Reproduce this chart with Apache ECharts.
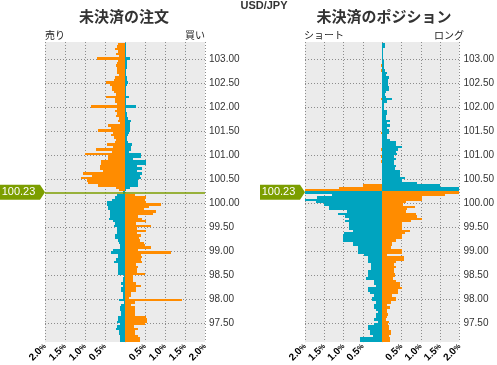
<!DOCTYPE html>
<html>
<head>
<meta charset="utf-8">
<script src="https://cdn.jsdelivr.net/npm/echarts/dist/echarts.min.js"></script>
<style>
html,body{margin:0;padding:0;background:#fff;}
#chart{width:497px;height:365px;}
</style>
</head>
<body>
<div id="chart"></div>
<script>
// ---------- data ----------
const symbolName = 'USD/JPY';
const currentPrice = 100.23;
const bucketSize = 0.05;
const yTicks = [97.5, 98.0, 98.5, 99.0, 99.5, 100.0, 100.5, 101.0, 101.5, 102.0, 102.5, 103.0];

// lower edge of each price bucket, top to bottom
const bucketPrices = [
  103.30,103.25,103.20,103.15,103.10,103.05,103.00,102.95,102.90,102.85,
  102.80,102.75,102.70,102.65,102.60,102.55,102.50,102.45,102.40,102.35,
  102.30,102.25,102.20,102.15,102.10,102.05,102.00,101.95,101.90,101.85,
  101.80,101.75,101.70,101.65,101.60,101.55,101.50,101.45,101.40,101.35,
  101.30,101.25,101.20,101.15,101.10,101.05,101.00,100.95,100.90,100.85,
  100.80,100.75,100.70,100.65,100.60,100.55,100.50,100.45,100.40,100.35,
  100.30,100.25,100.20,100.15,100.10,100.05,100.00,99.95,99.90,99.85,
  99.80,99.75,99.70,99.65,99.60,99.55,99.50,99.45,99.40,99.35,
  99.30,99.25,99.20,99.15,99.10,99.05,99.00,98.95,98.90,98.85,
  98.80,98.75,98.70,98.65,98.60,98.55,98.50,98.45,98.40,98.35,
  98.30,98.25,98.20,98.15,98.10,98.05,98.00,97.95,97.90,97.85,
  97.80,97.75,97.70,97.65,97.60,97.55,97.50,97.45,97.40,97.35,
  97.30,97.25,97.20,97.15,97.10
];

// open orders (%), sell side and buy side
const orderSell = [
  0.17,0.19,0.25,0.18,0.22,0.15,0.70,0.18,0.19,0.22,
  0.20,0.19,0.19,0.15,0.25,0.27,0.47,0.37,0.32,0.32,
  0.28,0.22,0.47,0.25,0.25,0.20,0.85,0.20,0.24,0.20,
  0.23,0.15,0.17,0.12,0.42,0.35,0.67,0.30,0.35,0.28,
  0.22,0.25,0.45,0.30,0.72,0.32,1.00,0.42,0.42,0.60,
  0.60,0.62,0.62,0.55,1.05,0.82,1.10,0.95,0.92,0.67,
  0.22,0.15,0.05,0.20,0.25,0.32,0.45,0.45,0.42,0.42,
  0.37,0.37,0.38,0.40,0.30,0.25,0.27,0.20,0.20,0.20,
  0.25,0.25,0.18,0.15,0.13,0.12,0.30,0.35,0.17,0.17,
  0.22,0.27,0.18,0.17,0.17,0.17,0.17,0.03,0.05,0.05,
  0.10,0.05,0.10,0.10,0.04,0.04,0.04,0.15,0.03,0.10,
  0.12,0.12,0.10,0.10,0.17,0.17,0.20,0.12,0.20,0.22,
  0.15,0.15,0.12,0.12,0.12
];
const orderBuy = [
  0.02,0.02,0.02,0.02,0.03,0.02,0.12,0.04,0.04,0.05,
  0.04,0.03,0.03,0.02,0.05,0.05,0.07,0.04,0.03,0.03,
  0.02,0.03,0.10,0.03,0.02,0.02,0.27,0.02,0.02,0.04,
  0.05,0.08,0.15,0.12,0.12,0.12,0.12,0.10,0.08,0.06,
  0.05,0.08,0.18,0.15,0.15,0.10,0.40,0.40,0.20,0.52,
  0.52,0.30,0.42,0.30,0.42,0.38,0.40,0.32,0.32,0.32,
  0.12,0.03,0.00,0.25,0.52,0.50,0.52,0.90,0.60,0.47,
  0.77,0.70,0.32,0.42,0.52,0.28,0.65,0.30,0.52,0.30,
  0.40,0.35,0.38,0.47,0.50,0.65,0.33,1.15,0.40,0.42,
  0.40,0.42,0.28,0.33,0.30,0.30,0.50,0.20,0.20,0.20,
  0.28,0.40,0.27,0.27,0.15,0.15,0.10,1.42,0.25,0.15,
  0.25,0.25,0.25,0.25,0.52,0.55,0.55,0.50,0.22,0.32,
  0.25,0.25,0.32,0.37,0.37
];

// open positions (%), short side and long side
const posShort = [
  0,0,0,0,0,0,0,0,0,0.02,
  0,0.02,0,0,0,0,0,0,0,0,
  0,0,0,0.02,0,0,0,0,0,0,
  0,0,0,0,0,0,0,0.02,0,0,
  0,0,0,0,0.02,0,0,0.03,0,0.02,
  0,0,0,0,0,0,0,0,0,0.50,
  1.12,2.10,2.10,1.30,1.70,2.10,1.72,1.50,1.37,1.37,
  0.90,1.15,0.97,0.87,0.97,0.87,0.87,0.87,0.75,1.00,
  1.02,1.02,1.02,0.75,0.75,0.62,0.62,0.62,0.47,0.37,
  0.37,0.37,0.30,0.30,0.30,0.37,0.37,0.37,0.42,0.22,
  0.22,0.17,0.37,0.37,0.32,0.22,0.27,0.27,0.17,0.22,
  0.22,0.17,0.12,0.17,0.17,0.20,0.12,0.22,0.37,0.37,
  0.32,0.32,0.25,0.57,0.57
];
const posLong = [
  0.07,0.07,0.03,0.03,0.03,0.03,0.03,0.04,0.05,0.05,
  0.05,0.06,0.12,0.10,0.17,0.15,0.15,0.15,0.17,0.17,
  0.10,0.08,0.10,0.25,0.12,0.05,0.05,0.05,0.12,0.12,
  0.10,0.10,0.19,0.12,0.19,0.12,0.17,0.17,0.12,0.12,
  0.20,0.37,0.37,0.52,0.40,0.37,0.38,0.30,0.35,0.30,
  0.30,0.35,0.33,0.45,0.45,0.47,0.60,0.52,0.90,1.50,
  2.10,2.10,2.10,1.62,1.02,1.02,0.62,0.55,0.85,0.65,
  0.62,0.87,0.90,1.02,0.75,0.52,0.50,0.52,0.72,0.60,
  0.50,0.50,0.37,0.25,0.25,0.22,0.50,0.50,0.12,0.57,
  0.57,0.35,0.30,0.37,0.30,0.30,0.32,0.32,0.27,0.37,
  0.45,0.45,0.52,0.40,0.40,0.25,0.37,0.37,0.22,0.12,
  0.20,0.12,0.12,0.15,0.12,0.10,0.17,0.15,0.17,0.17,
  0.22,0.22,0.17,0.20,0.20
];

// ---------- styles ----------
const ORANGE = '#ff8c00';
const TEAL = '#00a4bf';
const GREEN = '#7c9e00';
const GRID_BG = '#ebebeb';
const DOT = '#8c8c8c';
const NUM_FONT = '"Liberation Sans", Arial, sans-serif';
const JP_FONT = '"Noto Sans CJK JP", sans-serif';

const chart = echarts.init(document.getElementById('chart'), null, {renderer: 'canvas'});

function pairs(vals) { return bucketPrices.map((p, i) => [p, vals[i]]); }

function makeRender(sign, colorAbove, colorBelow) {
  return function (params, api) {
    const p = api.value(0);
    let v = api.value(1);
    if (!v) return null;
    v = Math.min(v, 2);
    const a = api.coord([0, p + bucketSize]);
    const b = api.coord([sign * v, p]);
    const y0 = Math.round(a[1]), y1 = Math.round(b[1]);
    const xa = Math.round(a[0]), xb = Math.round(b[0]);
    const above = (p + bucketSize / 2) >= currentPrice;
    return {
      type: 'rect',
      shape: {x: Math.min(xa, xb), y: y0, width: Math.max(1, Math.abs(xb - xa)), height: y1 - y0},
      style: {fill: above ? colorAbove : colorBelow}
    };
  };
}

function barSeries(idx, vals, sign) {
  return {
    type: 'custom',
    xAxisIndex: idx, yAxisIndex: idx,
    clip: true,
    renderItem: sign < 0 ? makeRender(-1, ORANGE, TEAL) : makeRender(1, TEAL, ORANGE),
    data: pairs(vals),
    z: 2,
    silent: true
  };
}

function priceMarker(idx, withLine) {
  const s = {
    type: 'line',
    xAxisIndex: idx, yAxisIndex: idx,
    data: [],
    z: 5,
    silent: true,
    markPoint: {
      silent: true,
      symbol: 'path://M0,0L40,0L45,7.5L40,15L0,15Z',
      symbolSize: [45, 15],
      symbolKeepAspect: false,
      symbolOffset: ['-50%', 0],
      itemStyle: {color: GREEN},
      label: {
        show: true, position: 'inside', offset: [-4, 0],
        color: '#fff', fontSize: 11, fontFamily: NUM_FONT,
        formatter: () => currentPrice.toFixed(2)
      },
      data: [{coord: [-2, currentPrice]}]
    }
  };
  if (withLine) {
    s.markLine = {
      silent: true,
      symbol: ['none', 'none'],
      label: {show: false},
      lineStyle: {color: GREEN, width: 1.5, type: 'solid'},
      data: [{yAxis: currentPrice}]
    };
  }
  return s;
}

function xAxis(idx) {
  return {
    type: 'value', gridIndex: idx, min: -2, max: 2, interval: 0.5,
    axisLine: {show: false}, axisTick: {show: false},
    splitLine: {show: true, lineStyle: {color: DOT, type: [1, 2], width: 1}},
    axisLabel: {
      rotate: 45, margin: 3, fontFamily: NUM_FONT,
      formatter: v => Math.abs(v) < 1e-9 ? '' : '{n|' + Math.abs(v).toFixed(1) + '}{p|%}',
      rich: {
        n: {fontSize: 10, color: '#000', fontWeight: 'bold', fontFamily: NUM_FONT},
        p: {fontSize: 7, color: '#000', fontWeight: 'bold', fontFamily: NUM_FONT}
      }
    }
  };
}

function yAxis(idx) {
  return {
    type: 'value', gridIndex: idx, min: 97.10, max: 103.37, position: 'right',
    axisLine: {show: false},
    axisTick: {show: false, customValues: yTicks},
    axisLabel: {
      customValues: yTicks, margin: 4, fontSize: 10, color: '#333', fontFamily: NUM_FONT,
      formatter: v => Number(v).toFixed(2)
    },
    splitLine: {show: true, lineStyle: {color: DOT, type: [1, 2], width: 1}}
  };
}

function txt(x, y, text, font, align, color) {
  return {type: 'text', x: x, y: y, silent: true,
    style: {text: text, font: font, fill: color || '#222', textAlign: align, textVerticalAlign: 'top'}};
}

const option = {
  animation: false,
  backgroundColor: '#fff',
  grid: [
    {left: 45, top: 42, width: 160, height: 301, show: true, backgroundColor: GRID_BG, borderWidth: 0},
    {left: 305, top: 42, width: 160, height: 301, show: true, backgroundColor: GRID_BG, borderWidth: 0}
  ],
  xAxis: [xAxis(0), xAxis(1)],
  yAxis: [yAxis(0), yAxis(1)],
  series: [
    barSeries(0, orderSell, -1),
    barSeries(0, orderBuy, 1),
    barSeries(1, posShort, -1),
    barSeries(1, posLong, 1),
    priceMarker(0, true),
    priceMarker(1, false)
  ],
  graphic: [
    txt(264, 0, symbolName, 'bold 11px ' + NUM_FONT, 'center', '#333'),
    txt(124, 9, '未決済の注文', 'bold 15px ' + JP_FONT, 'center', '#333'),
    txt(384, 9, '未決済のポジション', 'bold 15px ' + JP_FONT, 'center', '#333'),
    txt(45, 30, '売り', '10px ' + JP_FONT, 'left'),
    txt(205, 30, '買い', '10px ' + JP_FONT, 'right'),
    txt(304, 30, 'ショート', '10px ' + JP_FONT, 'left'),
    txt(464, 30, 'ロング', '10px ' + JP_FONT, 'right')
  ]
};
chart.setOption(option);
</script>
</body>
</html>
